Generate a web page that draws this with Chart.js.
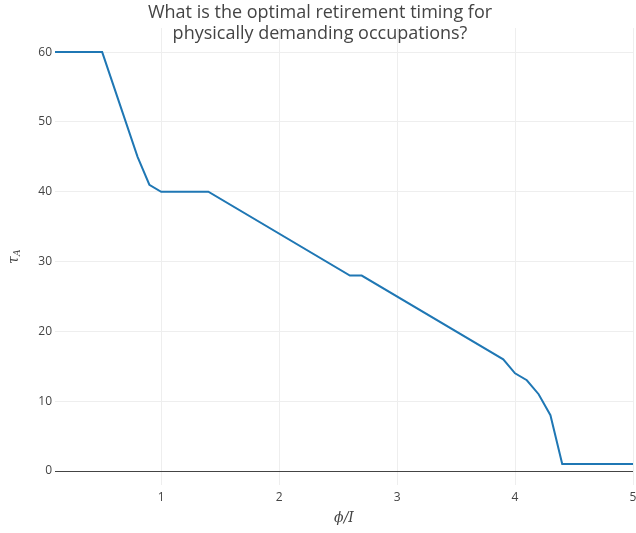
<!DOCTYPE html>
<html>
<head>
<meta charset="utf-8">
<script src="https://cdn.jsdelivr.net/npm/chart.js@4"></script>
<style>
  html, body { margin: 0; padding: 0; background: #fff; }
  #wrap { width: 636px; height: 533px; position: relative; }
</style>
</head>
<body>
<div id="wrap"><canvas id="c"></canvas></div>
<script>
const titleLines = ["What is the optimal retirement timing for", "physically demanding occupations?"];
const xValues = [0.1, 0.5, 0.8, 0.9, 1.0, 1.4, 2.6, 2.7, 3.9, 4.0, 4.1, 4.2, 4.3, 4.4, 5.0];
const yValues = [60, 60, 45, 41, 40, 40, 28, 28, 16, 14, 13, 11, 8, 1, 1];
const xTicks = [1, 2, 3, 4, 5];
const yTicks = [0, 10, 20, 30, 40, 50, 60];

const points = xValues.map((x, i) => ({ x: x, y: yValues[i] }));

const textPlugin = {
  id: 'texts',
  afterDraw(chart) {
    const ctx = chart.ctx;
    ctx.save();
    ctx.fillStyle = '#444';
    ctx.textAlign = 'center';
    ctx.textBaseline = 'middle';
    ctx.font = '18px "Open Sans"';
    ctx.fillText(titleLines[0], 320, 13);
    ctx.fillText(titleLines[1], 320, 34);
    // x title
    ctx.font = 'italic 14px "DejaVu Serif"';
    ctx.fillText('ϕ/I', 344, 518);
    // y title
    ctx.translate(14, 258);
    ctx.rotate(-Math.PI / 2);
    ctx.textAlign = 'left';
    ctx.font = 'italic 14px "DejaVu Serif"';
    ctx.fillText('τ', -6, 0);
    ctx.font = 'italic 9px "DejaVu Serif"';
    ctx.fillText('A', 2, 4);
    ctx.restore();
  }
};

new Chart(document.getElementById('c'), {
  type: 'line',
  data: {
    datasets: [{
      data: points,
      borderColor: '#1f77b4',
      borderWidth: 2,
      pointRadius: 0,
      fill: false,
      tension: 0
    }]
  },
  options: {
    responsive: true,
    maintainAspectRatio: false,
    animation: false,
    layout: { padding: { top: 28, right: 3, left: 0, bottom: 0 } },
    plugins: { legend: { display: false }, tooltip: { enabled: false }, title: { display: false } },
    scales: {
      x: {
        type: 'linear',
        min: 0.1,
        max: 5,
        afterBuildTicks: s => { s.ticks = xTicks.map(v => ({ value: v })); },
        afterFit: s => { s.height = 48; s.paddingRight = 0; s.paddingLeft = 0; },
        grid: { color: '#eeeeee', drawTicks: false, lineWidth: 1 },
        border: { display: false },
        ticks: { color: '#444', font: { family: '"Open Sans"', size: 12 }, padding: 5, maxRotation: 0 }
      },
      y: {
        type: 'linear',
        min: -2.0,
        max: 63.45,
        afterBuildTicks: s => { s.ticks = yTicks.map(v => ({ value: v })); },
        afterFit: s => { s.width = 55; s.paddingTop = 0; s.paddingBottom = 0; },
        grid: {
          color: c => (c.tick && c.tick.value === 0) ? '#444' : '#eeeeee',
          drawTicks: false,
          lineWidth: 1
        },
        border: { display: false },
        ticks: { color: '#444', font: { family: '"Open Sans"', size: 12 }, padding: 3 }
      }
    }
  },
  plugins: [textPlugin]
});
</script>
</body>
</html>
